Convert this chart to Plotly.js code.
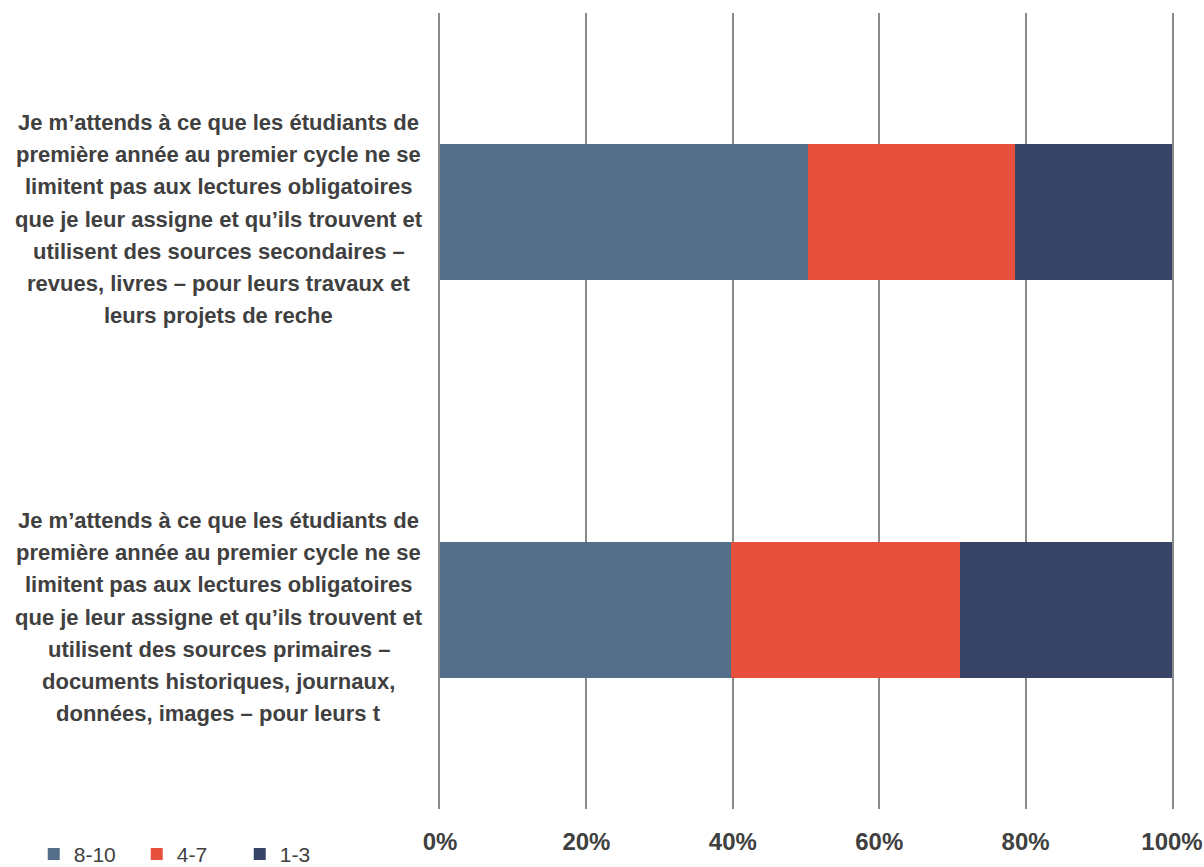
<!DOCTYPE html>
<html>
<head>
<meta charset="utf-8">
<script src="https://cdn.plot.ly/plotly-3.0.1.min.js"></script>
<style>html,body{margin:0;padding:0;background:#fff;}#chart{width:1204px;height:867px;}</style>
</head>
<body>
<div id="chart"></div>
<script>
const categories = [
  "Je m’attends à ce que les étudiants de<br>première année au premier cycle ne se<br>limitent pas aux lectures obligatoires<br>que je leur assigne et qu’ils trouvent et<br>utilisent des sources primaires –<br>documents historiques, journaux,<br>données, images – pour leurs t",
  "Je m’attends à ce que les étudiants de<br>première année au premier cycle ne se<br>limitent pas aux lectures obligatoires<br>que je leur assigne et qu’ils trouvent et<br>utilisent des sources secondaires –<br>revues, livres – pour leurs travaux et<br>leurs projets de reche"
];
const seriesNames = ["8-10", "4-7", "1-3"];
const v810 = [39.8, 50.3];
const v47 = [31.2, 28.3];
const v13 = [29.0, 21.4];
const tickVals = [0, 20, 40, 60, 80, 100];
const tickText = ["0%", "20%", "40%", "60%", "80%", "100%"];
const colors = ["#546E8A", "#E8503E", "#374466"];

const values = [v810, v47, v13];
const traces = seriesNames.map((n, i) => ({
  type: "bar",
  orientation: "h",
  name: n,
  y: categories,
  x: values[i],
  marker: {color: colors[i], line: {width: 0}},
  hoverinfo: "x+name"
}));

const narrow = "'Liberation Sans Narrow', 'Arial Narrow', 'Liberation Sans', Arial, sans-serif";
const lineGap = 32.2;
const annotations = [];
categories.forEach(c => {
  const lines = c.split("<br>");
  const n = lines.length;
  lines.forEach((ln, i) => {
    annotations.push({
      xref: "paper", yref: "y",
      x: -0.302, y: c,
      yshift: -((i - (n - 1) / 2) * lineGap) - 7,
      text: "<b>" + ln + "</b>",
      showarrow: false,
      align: "center",
      xanchor: "center", yanchor: "middle",
      font: {family: "'Liberation Sans', Arial, sans-serif", size: 22, color: "#404040"}
    });
  });
});

const layout = {
  width: 1204, height: 867,
  margin: {l: 440, r: 32, t: 13, b: 58, autoexpand: false},
  barmode: "stack",
  bargap: 0.66,
  paper_bgcolor: "#fff",
  plot_bgcolor: "#fff",
  xaxis: {
    range: [0, 100],
    tickvals: tickVals,
    ticktext: tickText,
    showgrid: true,
    gridcolor: "#8a8a8a",
    gridwidth: 1.5,
    zeroline: false,
    showline: false,
    ticks: "",
    ticklabelstandoff: 16,
    tickfont: {family: narrow, size: 24, color: "#404040", weight: "bold"},
    fixedrange: true
  },
  yaxis: {
    showticklabels: false,
    showgrid: false,
    zeroline: false,
    showline: true,
    mirror: true,
    linecolor: "#8a8a8a",
    linewidth: 1.5,
    ticks: ""
  },
  annotations: annotations,
  showlegend: true,
  legend: {
    orientation: "h",
    x: -0.555, xanchor: "left",
    y: -0.057, yanchor: "middle",
    traceorder: "normal",
    font: {family: narrow, size: 21, color: "#404040"},
    entrywidth: 58,
    itemwidth: 30,
    tracegroupgap: 0,
    bgcolor: "rgba(0,0,0,0)"
  }
};

Plotly.newPlot("chart", traces, layout, {displayModeBar: false, responsive: false});
</script>
</body>
</html>
